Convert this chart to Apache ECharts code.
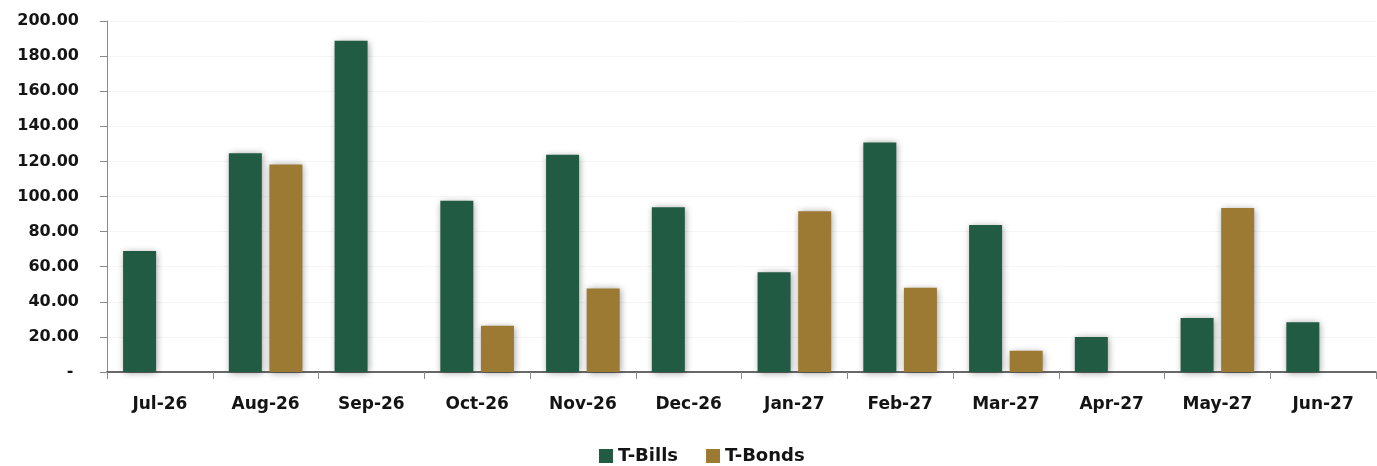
<!DOCTYPE html>
<html>
<head>
<meta charset="utf-8">
<script src="https://cdn.jsdelivr.net/npm/echarts@6/dist/echarts.min.js"></script>
<style>
  html, body { margin: 0; padding: 0; background: #ffffff; }
  #chart { width: 1377px; height: 466px; }
</style>
</head>
<body>
<div id="chart"></div>
<script>
// Chart data
const months = ['Jul-26', 'Aug-26', 'Sep-26', 'Oct-26', 'Nov-26', 'Dec-26',
                'Jan-27', 'Feb-27', 'Mar-27', 'Apr-27', 'May-27', 'Jun-27'];
const tBills = [69.0, 124.6, 188.8, 97.6, 123.8, 93.9, 56.9, 130.8, 83.8, 19.9, 30.7, 28.4];
const tBonds = [null, 118.3, null, 26.3, 47.6, null, 91.6, 48.0, 12.1, null, 93.5, null];

const colors = {
  bills: '#215B44',
  bonds: '#9C7A33',
  text: '#141414',
  axis: '#8a8a8a',
  base: '#3a3a3a',
  split: '#f6f6f6'
};
const fontFamily = '"DejaVu Sans", sans-serif';

const chart = echarts.init(document.getElementById('chart'));

const barStyle = (color) => ({
  color: color,
  shadowColor: 'rgba(0,0,0,0.4)',
  shadowBlur: 7,
  shadowOffsetX: 1,
  shadowOffsetY: 1
});

chart.setOption({
  backgroundColor: '#ffffff',
  animation: false,
  textStyle: { fontFamily: fontFamily },
  legend: {
    top: 447,
    left: 599,
    padding: 0,
    itemWidth: 14,
    itemHeight: 14,
    itemGap: 28,
    icon: 'rect',
    textStyle: { color: colors.text, fontSize: 18, fontWeight: 'bold', fontFamily: fontFamily },
    data: ['T-Bills', 'T-Bonds']
  },
  grid: { left: 107, right: 1, top: 21, bottom: 94, containLabel: false },
  xAxis: {
    type: 'category',
    data: months,
    axisLine: { lineStyle: { color: colors.base, width: 1.5 } },
    axisTick: { show: true, length: 7, lineStyle: { color: colors.axis } },
    axisLabel: { color: colors.text, fontSize: 17, fontWeight: 'bold', margin: 24, fontFamily: fontFamily },
    splitLine: { show: false }
  },
  yAxis: {
    type: 'value',
    min: 0,
    max: 200,
    interval: 20,
    axisLine: { show: true, lineStyle: { color: colors.axis } },
    axisTick: { show: true, length: 7, lineStyle: { color: colors.axis } },
    axisLabel: {
      color: colors.text,
      fontSize: 16,
      fontWeight: 'bold',
      margin: 28,
      fontFamily: fontFamily,
      formatter: v => v === 0 ? '- ' : v.toFixed(2)
    },
    splitLine: { lineStyle: { color: colors.split } }
  },
  series: [
    {
      name: 'T-Bills',
      type: 'bar',
      data: tBills,
      barWidth: 33,
      barGap: '23%',
      itemStyle: barStyle(colors.bills)
    },
    {
      name: 'T-Bonds',
      type: 'bar',
      data: tBonds,
      barWidth: 33,
      barGap: '23%',
      itemStyle: barStyle(colors.bonds)
    }
  ]
});
</script>
</body>
</html>
